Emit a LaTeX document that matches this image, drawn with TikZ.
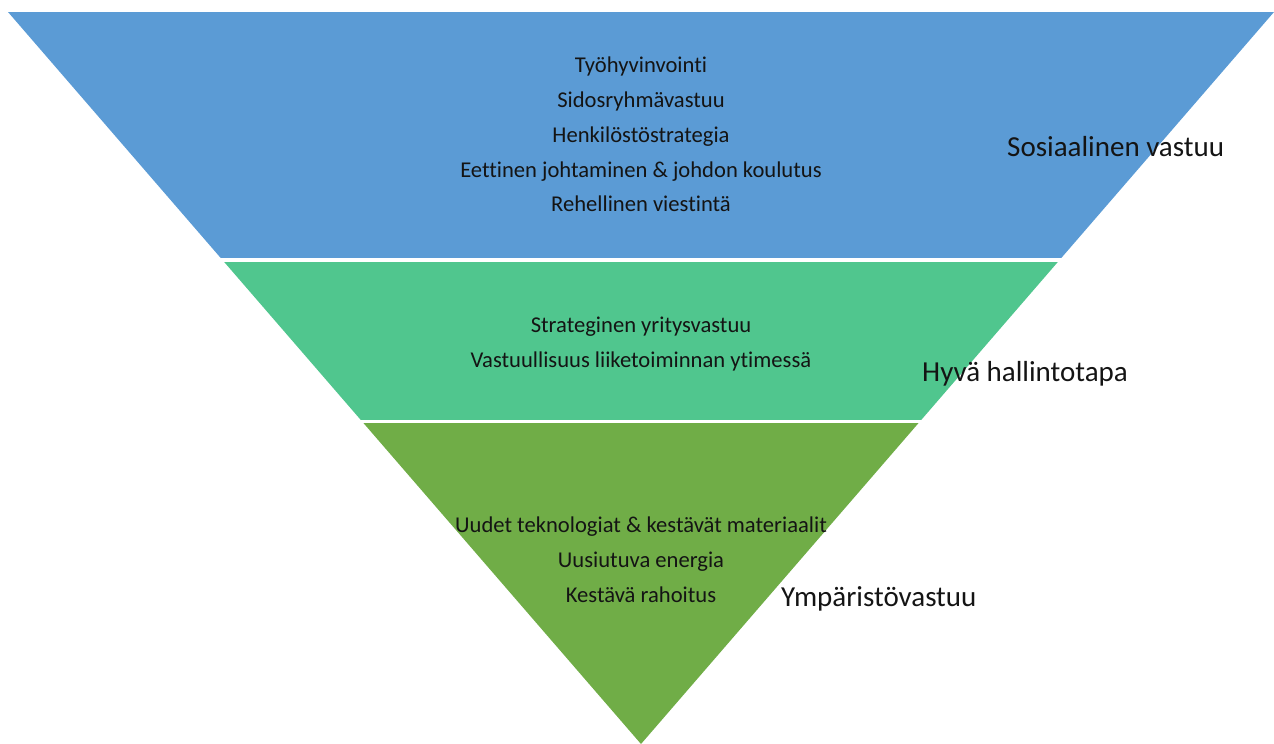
\documentclass[tikz,border=0pt]{standalone}
\usepackage{fontspec}
\setmainfont{Carlito}[Ligatures=NoCommon, RawFeature={-liga;-dlig}]
\usetikzlibrary{positioning}
\definecolor{social}{RGB}{91,155,213}
\definecolor{governance}{RGB}{80,198,142}
\definecolor{environment}{RGB}{112,173,71}

\begin{document}
\begin{tikzpicture}[
  x=1pt, y=-1pt,
  item/.style={anchor=base, inner sep=0pt, font=\fontsize{22.6}{27}\selectfont, text=black!92},
  label/.style={anchor=base west, inner sep=0pt, font=\fontsize{29}{34}\selectfont, text=black!92}
]
\useasboundingbox (0,0) rectangle (1274,744);

% funnel bands, clipped to the triangle
\begin{scope}
  \clip (8,12) -- (1274,12) -- (641,744) -- cycle;
  \fill[social] (0,12) rectangle (1274,258);
  \fill[governance] (0,262) rectangle (1274,420);
  \fill[environment] (0,423) rectangle (1274,745);
\end{scope}

% social responsibility
\node[item] (s1) at (641,72) {Työhyvinvointi};
\node[item] (s2) at (641,107) {Sidosryhmävastuu};
\node[item] (s3) at (641,142) {Henkilöstöstrategia};
\node[item] (s4) at (641,177) {Eettinen johtaminen \& johdon koulutus};
\node[item] (s5) at (641,211) {Rehellinen viestintä};
\node[label] (social) at (1007,156) {Sosiaalinen vastuu};

% governance
\node[item] (g1) at (641,332) {Strateginen yritysvastuu};
\node[item] (g2) at (641,367) {Vastuullisuus liiketoiminnan ytimessä};
\node[label] (gov) at (922,381) {Hyvä hallintotapa};

% environment
\node[item] (e1) at (641,532) {Uudet teknologiat \& kestävät materiaalit};
\node[item] (e2) at (641,567) {Uusiutuva energia};
\node[item] (e3) at (641,602) {Kestävä rahoitus};
\node[label] (env) at (781,606) {Ympäristövastuu};

\end{tikzpicture}
\end{document}
